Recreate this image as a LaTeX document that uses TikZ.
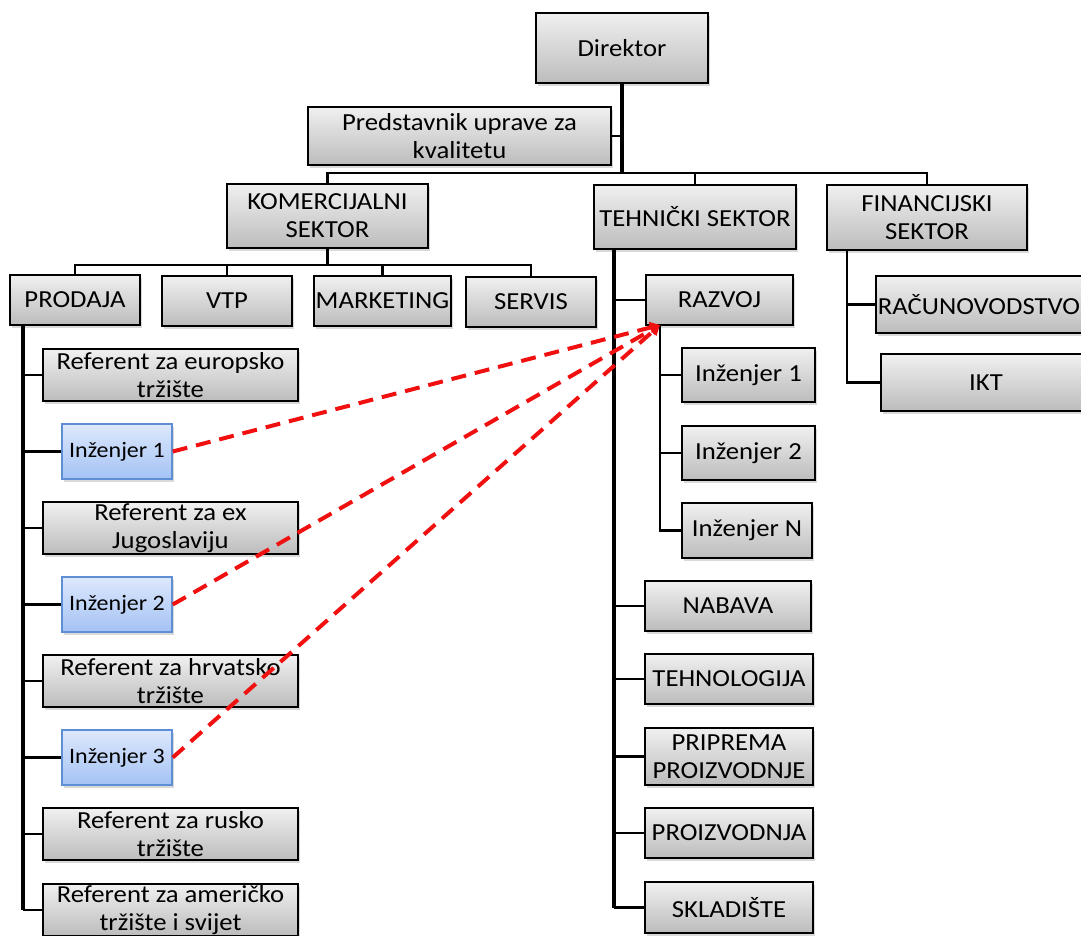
\documentclass[tikz,border=0pt]{standalone}
\usepackage{fontspec}
\setmainfont{Carlito}[FakeStretch=1.09]
\usetikzlibrary{arrows.meta,shadows}
\definecolor{boxtop}{HTML}{F0F0F0}
\definecolor{boxbot}{HTML}{BCBCBC}
\definecolor{bluetop}{HTML}{DDE8FC}
\definecolor{bluebot}{HTML}{A4C2F4}
\definecolor{blueline}{HTML}{5E8FD5}
\definecolor{linkred}{HTML}{F01010}

\begin{document}
\begin{tikzpicture}[x=1pt,y=-1pt,
	box/.style={draw,line width=1.5pt,top color=boxtop,bottom color=boxbot,align=center,inner sep=0pt,
		font=\fontsize{24.5}{28}\selectfont,drop shadow={opacity=.3,shadow xshift=2pt,shadow yshift=-3pt}},
	bluebox/.style={box,draw=blueline,top color=bluetop,bottom color=bluebot,font=\fontsize{22}{26}\selectfont},
	trunk/.style={line width=3.2pt},
	branch/.style={line width=2.2pt},
	link/.style={draw=linkred,line width=4pt,dash pattern=on 15pt off 9pt,-{Triangle[length=10pt,width=11pt]}}]
	
	\useasboundingbox (0,0) rectangle (1081,935);
	
	\node[box,minimum width=172,minimum height=70] (dir) at (622,48) {Direktor};
	\node[box,minimum width=303,minimum height=58] (pred) at (459.5,136) {Predstavnik uprave za\\kvalitetu};
	\node[box,minimum width=201,minimum height=64] (kom) at (327.5,216) {KOMERCIJALNI\\SEKTOR};
	\node[box,minimum width=202,minimum height=64] (teh) at (695,217) {TEHNIČKI SEKTOR};
	\node[box,minimum width=200,minimum height=65] (fin) at (927,217.5) {FINANCIJSKI\\SEKTOR};
	
	\node[box,minimum width=130,minimum height=50] (prod) at (75,300) {PRODAJA};
	\node[box,minimum width=130,minimum height=50] (vtp) at (227,301) {VTP};
	\node[box,minimum width=137,minimum height=50] (mark) at (382.5,301) {MARKETING};
	\node[box,minimum width=130,minimum height=50] (serv) at (531,302) {SERVIS};
	
	\node[box,minimum width=255,minimum height=52] (refeu) at (170.5,375) {Referent za europsko\\tržište};
	\node[bluebox,minimum width=110,minimum height=55] (inz1) at (117,451.5) {Inženjer 1};
	\node[box,minimum width=255,minimum height=52] (refex) at (170.5,528) {Referent za ex\\Jugoslaviju};
	\node[bluebox,minimum width=110,minimum height=55] (inz2) at (117,604.5) {Inženjer 2};
	\node[box,minimum width=255,minimum height=52] (refhr) at (170.5,681) {Referent za hrvatsko\\tržište};
	\node[bluebox,minimum width=110,minimum height=55] (inz3) at (117,757.5) {Inženjer 3};
	\node[box,minimum width=255,minimum height=52] (refru) at (170.5,834) {Referent za rusko\\tržište};
	\node[box,minimum width=255,minimum height=52] (refam) at (170.5,910) {Referent za američko\\tržište i svijet};
	
	\node[box,minimum width=147,minimum height=50] (razvoj) at (719.5,300) {RAZVOJ};
	\node[box,minimum width=133,minimum height=54] (raz1) at (748.5,375) {Inženjer 1};
	\node[box,minimum width=133,minimum height=54] (raz2) at (748.5,453) {Inženjer 2};
	\node[box,minimum width=130,minimum height=55] (razN) at (747,530.5) {Inženjer N};
	\node[box,minimum width=166,minimum height=50] (nab) at (728,606) {NABAVA};
	\node[box,minimum width=168,minimum height=50] (tehn) at (729,679) {TEHNOLOGIJA};
	\node[box,minimum width=168,minimum height=57] (prip) at (729,756.5) {PRIPREMA\\PROIZVODNJE};
	\node[box,minimum width=168,minimum height=50] (proiz) at (729,833) {PROIZVODNJA};
	\node[box,minimum width=168,minimum height=51] (skl) at (729,907.5) {SKLADIŠTE};
	
	\node[box,minimum width=206,minimum height=57] (rac) at (979,304.5) {RAČUNOVODSTVO};
	\node[box,minimum width=210,minimum height=57] (ikt) at (986,382.5) {IKT};
	
	\coordinate (jdir) at (622,173);
	\coordinate (jkom) at (327.5,265);
	\coordinate (jprod) at (23,325);
	\coordinate (jteh) at (614,249);
	\coordinate (jraz) at (660,325);
	\coordinate (jfin) at (847,250);
	
	%edges
	\draw[trunk] (dir) -- (jdir);
	\draw[branch] (pred.east) -- (pred.east -| jdir);
	\foreach \n in {kom,teh,fin} \draw[branch] (jdir) -| (\n.north);
	\draw[trunk] (kom) -- (jkom);
	\foreach \n in {prod,vtp,mark,serv} \draw[branch] (jkom) -| (\n.north);
	\draw[trunk] (jprod) -- (jprod |- refam.west);
	\foreach \n in {refeu,inz1,refex,inz2,refhr,inz3,refru,refam} \draw[branch] (\n.west) -- (\n.west -| jprod);
	\draw[trunk] (jteh) -- (jteh |- skl.west);
	\foreach \n in {razvoj,nab,tehn,prip,proiz,skl} \draw[branch] (\n.west) -- (\n.west -| jteh);
	\draw[branch] (jraz) |- (razN.west);
	\foreach \n in {raz1,raz2} \draw[branch] (\n.west) -- (\n.west -| jraz);
	\draw[branch] (jfin) |- (ikt.west);
	\draw[branch] (rac.west) -- (rac.west -| jfin);
	
	\foreach \n in {inz1,inz2,inz3} \draw[link] (\n.east) -- (jraz);
\end{tikzpicture}
\end{document}
